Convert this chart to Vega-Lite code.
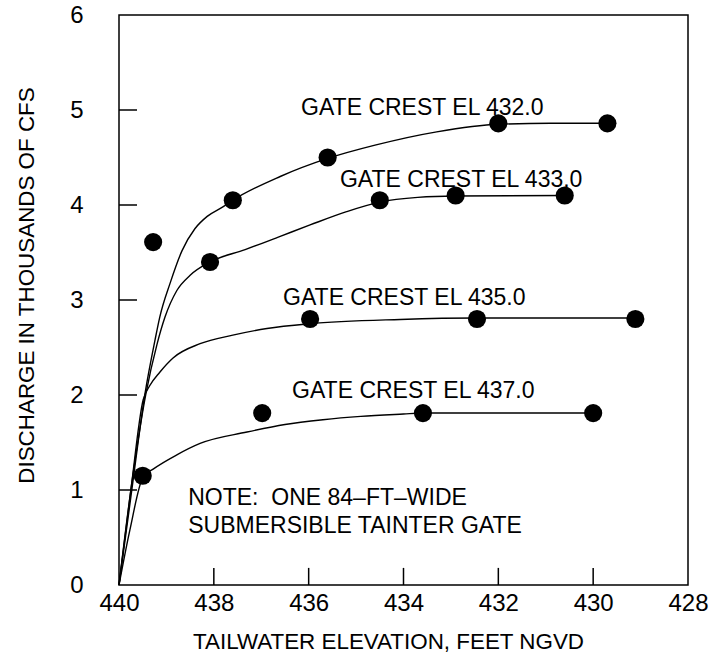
{
  "$schema": "https://vega.github.io/schema/vega-lite/v6.json",
  "width": 569,
  "height": 570,
  "autosize": "none",
  "padding": {"left": 119, "top": 15, "right": 27, "bottom": 71},
  "background": "white",
  "config": {
    "view": {"stroke": "black", "strokeWidth": 1.5},
    "font": "Liberation Sans",
    "axis": {"grid": false, "domain": false, "ticks": false, "tickSize": 0, "labelColor": "black", "titleColor": "black", "labelFont": "Liberation Sans", "titleFont": "Liberation Sans", "labelFontSize": 24, "titleFontSize": 22.4, "titleFontWeight": "normal"}
  },
  "datasets": {
    "curves": [
      {"series": "432.0", "x": 440, "y": 0}, {"series": "432.0", "x": 439.73, "y": 1.0}, {"series": "432.0", "x": 439.45, "y": 2.02}, {"series": "432.0", "x": 439.24, "y": 2.58}, {"series": "432.0", "x": 439.14, "y": 2.82}, {"series": "432.0", "x": 438.92, "y": 3.18}, {"series": "432.0", "x": 438.67, "y": 3.52}, {"series": "432.0", "x": 438.4, "y": 3.75}, {"series": "432.0", "x": 438.14, "y": 3.88}, {"series": "432.0", "x": 437.81, "y": 3.98}, {"series": "432.0", "x": 437.6, "y": 4.05}, {"series": "432.0", "x": 436.6, "y": 4.3}, {"series": "432.0", "x": 435.6, "y": 4.49}, {"series": "432.0", "x": 434.6, "y": 4.63}, {"series": "432.0", "x": 433.3, "y": 4.77}, {"series": "432.0", "x": 432.0, "y": 4.85}, {"series": "432.0", "x": 430.9, "y": 4.86}, {"series": "432.0", "x": 429.7, "y": 4.86},
      {"series": "433.0", "x": 440, "y": 0}, {"series": "433.0", "x": 439.75, "y": 1.0}, {"series": "433.0", "x": 439.43, "y": 2.02}, {"series": "433.0", "x": 439.2, "y": 2.53}, {"series": "433.0", "x": 439.03, "y": 2.82}, {"series": "433.0", "x": 438.78, "y": 3.1}, {"series": "433.0", "x": 438.5, "y": 3.26}, {"series": "433.0", "x": 438.08, "y": 3.4}, {"series": "433.0", "x": 437.34, "y": 3.53}, {"series": "433.0", "x": 436.6, "y": 3.67}, {"series": "433.0", "x": 435.97, "y": 3.79}, {"series": "433.0", "x": 435.2, "y": 3.93}, {"series": "433.0", "x": 434.5, "y": 4.03}, {"series": "433.0", "x": 433.7, "y": 4.08}, {"series": "433.0", "x": 432.9, "y": 4.095}, {"series": "433.0", "x": 430.6, "y": 4.1},
      {"series": "435.0", "x": 440, "y": 0}, {"series": "435.0", "x": 439.75, "y": 1.0}, {"series": "435.0", "x": 439.49, "y": 1.95}, {"series": "435.0", "x": 439.35, "y": 2.1}, {"series": "435.0", "x": 439.14, "y": 2.24}, {"series": "435.0", "x": 438.86, "y": 2.39}, {"series": "435.0", "x": 438.29, "y": 2.54}, {"series": "435.0", "x": 437.6, "y": 2.63}, {"series": "435.0", "x": 436.88, "y": 2.7}, {"series": "435.0", "x": 435.99, "y": 2.75}, {"series": "435.0", "x": 434.07, "y": 2.795}, {"series": "435.0", "x": 432.45, "y": 2.81}, {"series": "435.0", "x": 429.11, "y": 2.81},
      {"series": "437.0", "x": 440, "y": 0}, {"series": "437.0", "x": 439.77, "y": 0.58}, {"series": "437.0", "x": 439.49, "y": 1.14}, {"series": "437.0", "x": 439.28, "y": 1.22}, {"series": "437.0", "x": 438.78, "y": 1.37}, {"series": "437.0", "x": 438.29, "y": 1.49}, {"series": "437.0", "x": 437.3, "y": 1.61}, {"series": "437.0", "x": 436.5, "y": 1.69}, {"series": "437.0", "x": 435.7, "y": 1.74}, {"series": "437.0", "x": 434.9, "y": 1.775}, {"series": "437.0", "x": 434.0, "y": 1.8}, {"series": "437.0", "x": 433.59, "y": 1.81}, {"series": "437.0", "x": 430.0, "y": 1.81}
    ],
    "points": [
      {"series": "432.0", "x": 439.28, "y": 3.61}, {"series": "432.0", "x": 437.6, "y": 4.05}, {"series": "432.0", "x": 435.6, "y": 4.5}, {"series": "432.0", "x": 432.0, "y": 4.86}, {"series": "432.0", "x": 429.7, "y": 4.86},
      {"series": "433.0", "x": 438.08, "y": 3.4}, {"series": "433.0", "x": 434.5, "y": 4.05}, {"series": "433.0", "x": 432.9, "y": 4.1}, {"series": "433.0", "x": 430.6, "y": 4.1},
      {"series": "435.0", "x": 435.97, "y": 2.8}, {"series": "435.0", "x": 432.45, "y": 2.8}, {"series": "435.0", "x": 429.11, "y": 2.8},
      {"series": "437.0", "x": 439.5, "y": 1.15}, {"series": "437.0", "x": 436.98, "y": 1.81}, {"series": "437.0", "x": 433.59, "y": 1.81}, {"series": "437.0", "x": 430.0, "y": 1.81}
    ],
    "labels": [
      {"x": 436.16, "y": 4.95, "text": "GATE CREST EL 432.0"},
      {"x": 435.34, "y": 4.19, "text": "GATE CREST EL 433.0"},
      {"x": 436.54, "y": 2.95, "text": "GATE CREST EL 435.0"},
      {"x": 436.35, "y": 1.97, "text": "GATE CREST EL 437.0"},
      {"x": 438.54, "y": 0.84, "text": "NOTE:\u00a0 ONE 84–FT–WIDE"},
      {"x": 438.54, "y": 0.55, "text": "SUBMERSIBLE TAINTER GATE"}
    ],
    "xticks": [{"x": 438, "y": 0, "y2": 0.18}, {"x": 436, "y": 0, "y2": 0.18}, {"x": 434, "y": 0, "y2": 0.18}, {"x": 432, "y": 0, "y2": 0.18}, {"x": 430, "y": 0, "y2": 0.18}],
    "yticks": [{"y": 1, "x": 440, "x2": 439.62}, {"y": 2, "x": 440, "x2": 439.62}, {"y": 3, "x": 440, "x2": 439.62}, {"y": 4, "x": 440, "x2": 439.62}, {"y": 5, "x": 440, "x2": 439.62}]
  },
  "encoding": {
    "x": {"field": "x", "type": "quantitative", "scale": {"domain": [428, 440], "reverse": true, "nice": false, "zero": false},
      "axis": {"title": "TAILWATER ELEVATION, FEET NGVD", "values": [440, 438, 436, 434, 432, 430, 428], "labelPadding": 25, "labelBaseline": "alphabetic", "labelFlush": false, "titleX": 269, "titleY": 63, "titleBaseline": "alphabetic", "titleAnchor": "middle"}},
    "y": {"field": "y", "type": "quantitative", "scale": {"domain": [0, 6], "nice": false},
      "axis": {"title": "DISCHARGE IN THOUSANDS OF CFS", "values": [0, 1, 2, 3, 4, 5, 6], "labelPadding": 36, "labelFlush": false, "titleX": -86, "titleY": 270, "titleBaseline": "alphabetic", "titleAnchor": "middle", "titleAngle": -90}}
  },
  "layer": [
    {"data": {"name": "xticks"}, "mark": {"type": "rule", "color": "black", "strokeWidth": 1.5},
      "encoding": {"y2": {"field": "y2"}}},
    {"data": {"name": "yticks"}, "mark": {"type": "rule", "color": "black", "strokeWidth": 1.5},
      "encoding": {"x2": {"field": "x2"}}},
    {"data": {"name": "curves"}, "mark": {"type": "line", "interpolate": "monotone", "color": "black", "strokeWidth": 1.4},
      "encoding": {"detail": {"field": "series"}}},
    {"data": {"name": "points"}, "mark": {"type": "point", "filled": true, "shape": "circle", "color": "black", "opacity": 1, "size": 330}},
    {"data": {"name": "labels"}, "mark": {"type": "text", "align": "left", "baseline": "alphabetic", "fontSize": 23, "color": "black", "font": "Liberation Sans"},
      "encoding": {"text": {"field": "text"}}}
  ]
}
